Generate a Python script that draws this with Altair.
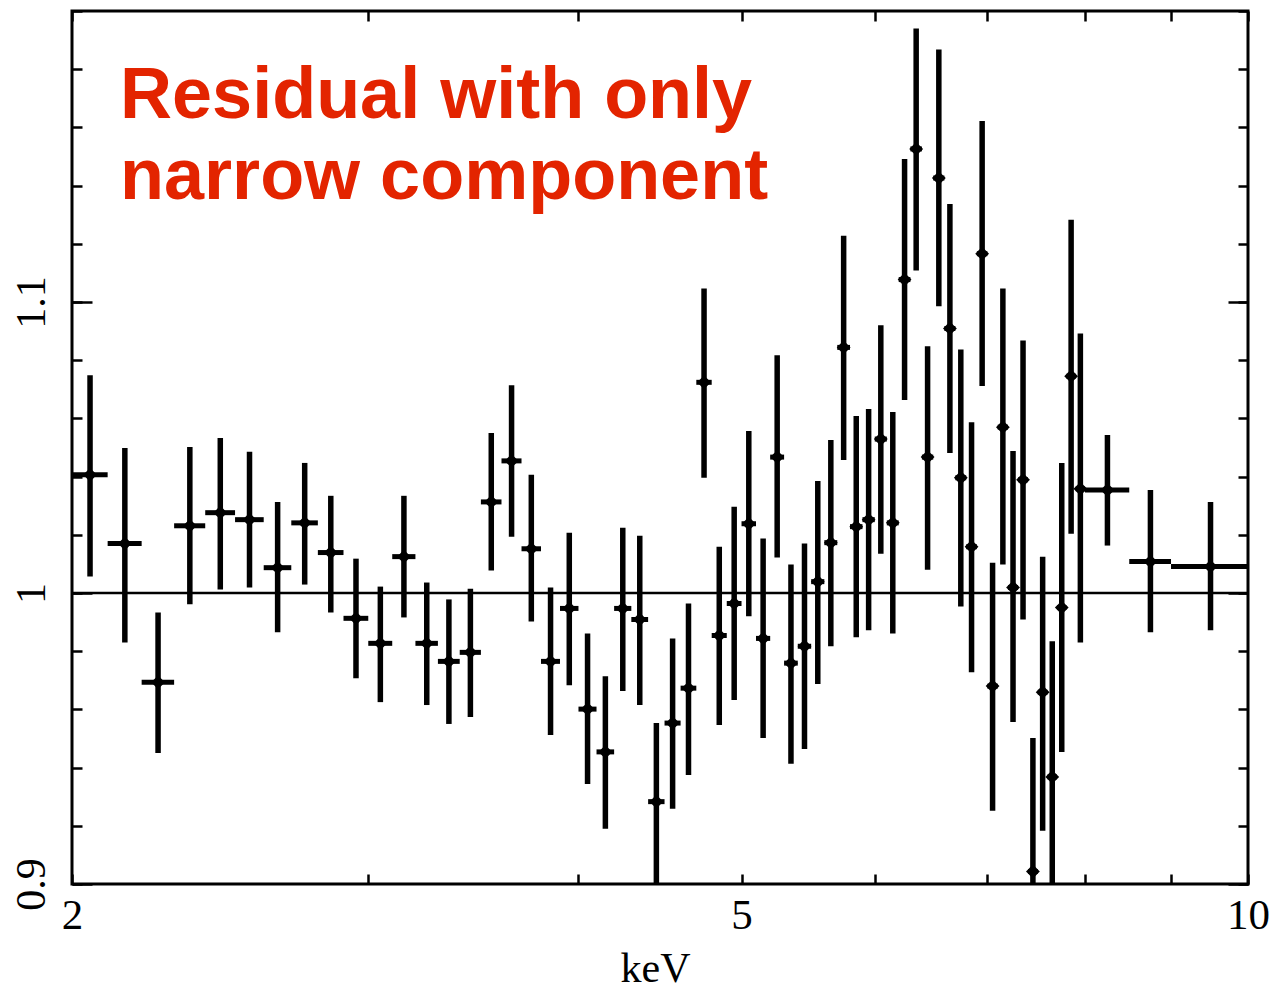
import altair as alt
import pandas as pd

# ---- data (energy in keV, data/model ratio) ----
energy_keV = [2.05, 2.15, 2.25, 2.35, 2.45, 2.55, 2.65, 2.75, 2.85, 2.95,
              3.05, 3.15, 3.25, 3.35, 3.45, 3.55, 3.65, 3.75, 3.85, 3.95,
              4.05, 4.15, 4.25, 4.35, 4.45, 4.55, 4.65, 4.75, 4.85, 4.95,
              5.05, 5.15, 5.25, 5.35, 5.45, 5.55, 5.65, 5.75, 5.85, 5.95,
              6.05, 6.15, 6.25, 6.35, 6.45, 6.55, 6.65, 6.75, 6.85, 6.95,
              7.05, 7.15, 7.25, 7.35, 7.45, 7.55, 7.65, 7.75, 7.85, 7.95,
              8.25, 8.75, 9.5]
bin_lo_keV = [2.0, 2.1, 2.2, 2.3, 2.4, 2.5, 2.6, 2.7, 2.8, 2.9,
              3.0, 3.1, 3.2, 3.3, 3.4, 3.5, 3.6, 3.7, 3.8, 3.9,
              4.0, 4.1, 4.2, 4.3, 4.4, 4.5, 4.6, 4.7, 4.8, 4.9,
              5.0, 5.1, 5.2, 5.3, 5.4, 5.5, 5.6, 5.7, 5.8, 5.9,
              6.0, 6.1, 6.2, 6.3, 6.4, 6.5, 6.6, 6.7, 6.8, 6.9,
              7.0, 7.1, 7.2, 7.3, 7.4, 7.5, 7.6, 7.7, 7.8, 7.9,
              8.0, 8.5, 9.0]
bin_hi_keV = [2.1, 2.2, 2.3, 2.4, 2.5, 2.6, 2.7, 2.8, 2.9, 3.0,
              3.1, 3.2, 3.3, 3.4, 3.5, 3.6, 3.7, 3.8, 3.9, 4.0,
              4.1, 4.2, 4.3, 4.4, 4.5, 4.6, 4.7, 4.8, 4.9, 5.0,
              5.1, 5.2, 5.3, 5.4, 5.5, 5.6, 5.7, 5.8, 5.9, 6.0,
              6.1, 6.2, 6.3, 6.4, 6.5, 6.6, 6.7, 6.8, 6.9, 7.0,
              7.1, 7.2, 7.3, 7.4, 7.5, 7.6, 7.7, 7.8, 7.9, 8.0,
              8.5, 9.0, 10.0]
ratio = [1.0406, 1.0170, 0.9693, 1.0231, 1.0276, 1.0252, 1.0087, 1.0241, 1.0139, 0.9913,
         0.9827, 1.0125, 0.9827, 0.9765, 0.9796, 1.0313, 1.0454, 1.0152, 0.9765, 0.9947,
         0.9601, 0.9454, 0.9947, 0.9909, 0.9283, 0.9553, 0.9673, 1.0724, 0.9854, 0.9964,
         1.0238, 0.9844, 1.0467, 0.9759, 0.9817, 1.0039, 1.0173, 1.0844, 1.0228, 1.0252,
         1.0529, 1.0241, 1.1077, 1.1526, 1.0467, 1.1426, 1.0909, 1.0396, 1.0159, 1.1166,
         0.9680, 1.0570, 1.0019, 1.0389, 0.9043, 0.9659, 0.9368, 0.9950, 1.0745, 1.0358,
         1.0354, 1.0108, 1.0091]
ratio_hi = [1.0748, 1.0498, 0.9933, 1.0502, 1.0533, 1.0485, 1.0313, 1.0447, 1.0334, 1.0118,
            1.0022, 1.0334, 1.0036, 0.9978, 1.0015, 1.0550, 1.0714, 1.0406, 1.0019, 1.0207,
            0.9861, 0.9714, 1.0224, 1.0197, 0.9553, 0.9844, 0.9964, 1.1046, 1.0159, 1.0296,
            1.0557, 1.0187, 1.0817, 1.0098, 1.0170, 1.0385, 1.0526, 1.1228, 1.0608, 1.0632,
            1.0920, 1.0622, 1.1491, 1.1940, 1.0848, 1.1868, 1.1337, 1.0837, 1.0587, 1.1622,
            1.0104, 1.1046, 1.0488, 1.0868, 0.9502, 1.0125, 0.9834, 1.0447, 1.1283, 1.0892,
            1.0543, 1.0354, 1.0313]
ratio_lo = [1.0057, 0.9830, 0.9450, 0.9961, 1.0012, 1.0019, 0.9865, 1.0029, 0.9933, 0.9707,
            0.9625, 0.9916, 0.9615, 0.9550, 0.9574, 1.0077, 1.0193, 0.9902, 0.9512, 0.9683,
            0.9344, 0.9190, 0.9663, 0.9615, 0.8990, 0.9259, 0.9375, 1.0396, 0.9546, 0.9632,
            0.9920, 0.9502, 1.0122, 0.9413, 0.9464, 0.9687, 0.9817, 1.0457, 0.9848, 0.9872,
            1.0135, 0.9861, 1.0663, 1.1108, 1.0080, 1.0985, 1.0481, 0.9954, 0.9728, 1.0711,
            0.9252, 1.0098, 0.9557, 0.9909, 0.8960, 0.9183, 0.8980, 0.9454, 1.0204, 0.9830,
            1.0163, 0.9865, 0.9872]

x_tick_values = [2, 3, 4, 5, 6, 7, 8, 9, 10]
y_major_ticks = [0.9, 1.0, 1.1]
y_minor_ticks = [0.90, 0.92, 0.94, 0.96, 0.98, 1.00, 1.02, 1.04, 1.06, 1.08,
                 1.10, 1.12, 1.14, 1.16, 1.18, 1.20]
reference_level = [1.0]

note_lines = ["Residual with only", "narrow component"]
note_energy = [2.136, 2.136]
note_ratio = [1.1632, 1.1354]

df = pd.DataFrame({
    "E": energy_keV, "Elo": bin_lo_keV, "Ehi": bin_hi_keV,
    "r": ratio, "rlo": ratio_lo, "rhi": ratio_hi,
})
ref_df = pd.DataFrame({"level": reference_level})
note_df = pd.DataFrame({"text": note_lines, "E": note_energy, "r": note_ratio})

xscale = alt.Scale(type="log", domain=[2, 10], nice=False)
yscale = alt.Scale(domain=[0.9, 1.2], nice=False, zero=False)

SERIF = "Liberation Serif"
tick_common = dict(domain=False, grid=False, tickColor="black", tickWidth=2.5, title=None)

x_bottom = alt.Axis(orient="bottom", values=x_tick_values, offset=-10, tickSize=10,
                    labelExpr="datum.value == 2 || datum.value == 5 || datum.value == 10 ? datum.label : ''",
                    labelFont=SERIF, labelFontSize=43, labelColor="black", labelPadding=10,
                    labelFlush=False, labelOverlap=False,
                    domain=False, grid=False, tickColor="black", tickWidth=2.5,
                    title="keV", titleFont=SERIF, titleFontSize=42, titleFontWeight="normal",
                    titleColor="black", titleX=583, titleY=107, titleBaseline="alphabetic",
                    titleAnchor="start", titleAlign="center")
x_top = alt.Axis(orient="top", values=x_tick_values, offset=-10, tickSize=10, labels=False, **tick_common)

y_left_major = alt.Axis(orient="left", values=y_major_ticks, offset=-20, tickSize=20,
                        labelFont=SERIF, labelFontSize=42, labelColor="black",
                        labelAngle=270, labelAlign="center", labelBaseline="alphabetic",
                        labelPadding=28, labelFlush=False, labelOverlap=False,
                        labelExpr="datum.value == 1 ? '1' : format(datum.value, '.1f')",
                        **tick_common)
y_left_minor = alt.Axis(orient="left", values=y_minor_ticks, offset=-10, tickSize=10, labels=False, **tick_common)
y_right_major = alt.Axis(orient="right", values=y_major_ticks, offset=-20, tickSize=20, labels=False, **tick_common)
y_right_minor = alt.Axis(orient="right", values=y_minor_ticks, offset=-10, tickSize=10, labels=False, **tick_common)

vbars = alt.Chart(df).mark_rule(color="black", strokeWidth=5.5, clip=True).encode(
    x=alt.X("E:Q", scale=xscale, axis=x_bottom),
    y=alt.Y("rlo:Q", scale=yscale, axis=y_left_major),
    y2="rhi:Q",
)
hbars = alt.Chart(df).mark_rule(color="black", strokeWidth=5, clip=True).encode(
    x=alt.X("Elo:Q", scale=xscale, axis=x_top),
    x2="Ehi:Q",
    y=alt.Y("r:Q", scale=yscale, axis=y_right_major),
)
points = alt.Chart(df).mark_point(shape="diamond", filled=True, color="black", size=190,
                                  opacity=1, clip=True).encode(
    x=alt.X("E:Q", scale=xscale, axis=None),
    y=alt.Y("r:Q", scale=yscale, axis=y_left_minor),
)
zero = alt.Chart(ref_df).mark_rule(color="black", strokeWidth=2.5).encode(
    y=alt.Y("level:Q", scale=yscale, axis=y_right_minor),
)
note = alt.Chart(note_df).mark_text(align="left", baseline="alphabetic", font="Liberation Sans",
                                    fontWeight="bold", fontSize=72, color="#E32400").encode(
    x=alt.X("E:Q", scale=xscale, axis=None),
    y=alt.Y("r:Q", scale=yscale, axis=None),
    text="text:N",
)

chart = alt.layer(vbars, hbars, points, zero, note).resolve_axis(
    x="independent", y="independent"
).properties(
    width=1176, height=873,
    padding={"left": 72, "top": 11, "right": 21, "bottom": 107},
    autosize=alt.AutoSizeParams(type="none"),
    background="white",
).configure_view(stroke="black", strokeWidth=3)

chart.save("out.html", embed_options={"renderer": "svg", "actions": False})
